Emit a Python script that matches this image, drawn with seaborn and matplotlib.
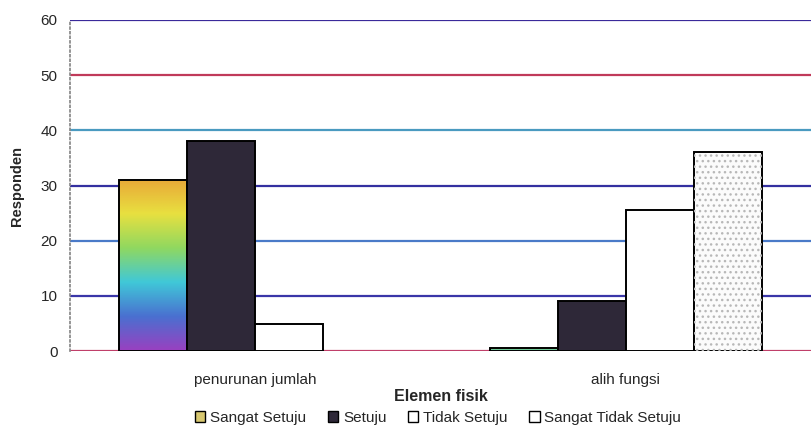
import numpy as np
import pandas as pd
import matplotlib
matplotlib.use("Agg")
import matplotlib.pyplot as plt
import seaborn as sns
from matplotlib.patches import Patch, Rectangle
from matplotlib.colors import LinearSegmentedColormap

categories = ["penurunan jumlah", "alih fungsi"]
levels = ["Sangat Setuju", "Setuju", "Tidak Setuju", "Sangat Tidak Setuju"]
sangat_setuju = [31, 0.5]
setuju = [38, 9]
tidak_setuju = [5, 25.5]
sangat_tidak_setuju = [0, 36]

df = pd.DataFrame({
    "Elemen": categories * 4,
    "Sikap": np.repeat(levels, 2),
    "Responden": sangat_setuju + setuju + tidak_setuju + sangat_tidak_setuju,
})

sns.set_theme(style="white")
plt.rcParams["font.family"] = ["Liberation Sans", "DejaVu Sans"]

fig = plt.figure(figsize=(8.11, 4.34), dpi=100)
ax = fig.add_axes([0.0863, 0.191, 0.914, 0.763])

# coloured gridlines like the scanned original
grid_colors = {0: "#c0406a", 10: "#3a36a8", 20: "#4a7ac8", 30: "#3430a0",
               40: "#4a9ac0", 50: "#c03a5a", 60: "#3a2a9a"}
for y, c in grid_colors.items():
    ax.axhline(y, color=c, lw=1.6, zorder=0)

face = {"Sangat Setuju": "none", "Setuju": "#2e2838",
        "Tidak Setuju": "white", "Sangat Tidak Setuju": "#fbfbfb"}
sns.barplot(data=df, x="Elemen", y="Responden", hue="Sikap", hue_order=levels,
            order=categories, palette=face, width=0.735, gap=0, legend=False,
            edgecolor="black", linewidth=1.4, saturation=1, ax=ax, zorder=2)

cmap = LinearSegmentedColormap.from_list(
    "scan", ["#9a40c0", "#4a70d0", "#40c8d8", "#90d860", "#e8e040", "#e8a838"])
grad = np.linspace(0, 1, 256).reshape(-1, 1)
n = len(categories)
bars = list(ax.patches)
for bar in bars[:n]:
    x0, w, h = bar.get_x(), bar.get_width(), bar.get_height()
    im = ax.imshow(grad, cmap=cmap, origin="lower", aspect="auto",
                   extent=[x0, x0 + w, 0, max(h, 0.01)], zorder=1.9)
    im.set_clip_path(bar)
for bar in bars[3 * n:]:
    if bar.get_height() > 0:
        ax.add_patch(Rectangle((bar.get_x(), 0), bar.get_width(), bar.get_height(),
                               facecolor="none", edgecolor="#b8b8b8", lw=0,
                               hatch="...", zorder=2.1))
for bar in bars:
    if bar.get_height() == 0:
        bar.set_visible(False)

ax.set_xlim(-0.5, 1.5)
ax.set_ylim(0, 60)
ax.set_yticks(range(0, 61, 10))
ax.tick_params(axis="y", labelsize=11, length=3, pad=6)
ax.tick_params(axis="x", labelsize=11, length=0, pad=16)
ax.set_ylabel("Responden", fontsize=10.5, fontweight="bold", labelpad=12)
ax.set_xlabel("Elemen fisik", fontsize=11.5, fontweight="bold", labelpad=1)
for s in ["top", "right", "bottom"]:
    ax.spines[s].set_visible(False)
ax.spines["left"].set_color("#888888")
ax.spines["left"].set_linestyle(":")

handles = [Patch(facecolor="#d8c870", edgecolor="black", label=levels[0]),
           Patch(facecolor="#2e2838", edgecolor="black", label=levels[1]),
           Patch(facecolor="white", edgecolor="black", label=levels[2]),
           Patch(facecolor="white", edgecolor="black", label=levels[3])]
fig.legend(handles=handles, loc="lower center", bbox_to_anchor=(0.54, -0.01),
           ncol=4, frameon=False, fontsize=11, handlelength=0.7,
           handleheight=0.7, handletextpad=0.3, columnspacing=1.4)

fig.savefig("out.png", dpi=100)
